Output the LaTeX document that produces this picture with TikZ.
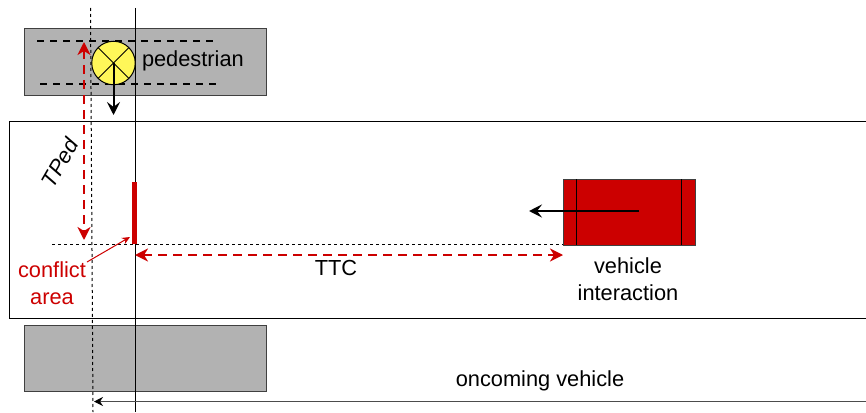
\documentclass[tikz,border=0pt]{standalone}
\usepackage{fontspec}
\setmainfont{Liberation Sans}
\usetikzlibrary{positioning, arrows.meta}

\begin{document}
\begin{tikzpicture}
    [x=1pt, y=-1pt, outer sep = 0pt, line width=1pt,
      font=\fontsize{21.8}{27}\selectfont,
      sidewalk/.style={rectangle, draw=black!75, fill=black!30, minimum
        width=242pt, minimum height=66pt, inner sep=0pt},
      label text/.style={align=center, inner sep=0pt},
      guide/.style={densely dashed, dash pattern=on 3pt off 3pt},
      time span/.style={draw=redmark, line width=2pt, dash pattern=on 9pt off 6pt,
        {Stealth[length=13pt, width=13pt, inset=4pt]}-{Stealth[length=13pt, width=13pt, inset=4pt]}},
      heading/.style={-{Stealth[length=13pt, width=13pt, inset=5pt]}, line width=2pt}]
    \definecolor{redmark}{RGB}{204,0,0}
    \useasboundingbox (0,0) rectangle (866,412);

    % road and sidewalks
    \node (road) [rectangle, draw=black, minimum width=880pt, minimum height=197pt, anchor=north west] at (9,121) {};
    \node (walk_top) [sidewalk, anchor=north west] at (24,29) {};
    \node (walk_bottom) [sidewalk, anchor=north west] at (24,325) {};

    % crossing
    \coordinate (cross_a_l) at (37,41);
    \coordinate (cross_a_r) at (213,41);
    \coordinate (cross_b_l) at (40,84);
    \coordinate (cross_b_r) at (217,84);
    \draw [line width=1.5pt, dash pattern=on 7pt off 6pt] (cross_a_l) -- (cross_a_r);
    \draw [line width=1.5pt, dash pattern=on 7pt off 6pt] (cross_b_l) -- (cross_b_r);

    % guide lines
    \coordinate (solid_top) at (135,8);
    \coordinate (solid_bottom) at (135,412);
    \coordinate (dot_top) at (90.5,8);
    \coordinate (dot_bottom) at (93,412);
    \coordinate (base_left) at (52,244);
    \coordinate (base_right) at (580,244);
    \draw (solid_top) -- (solid_bottom);
    \draw [guide] (dot_top) -- (dot_bottom);
    \draw [guide] (base_left) -- (base_right);

    % pedestrian
    \node (ped) [circle, draw=black, fill=yellow!65, minimum size=43.5pt, inner sep=0pt] at (113.5,63) {};
    \draw (ped.45) -- (ped.225);
    \draw (ped.135) -- (ped.315);
    \node (ped_label) [label text, anchor=west] at (142,60.5) {pedestrian};
    \coordinate (ped_head) at (113.5,115);
    \draw [heading] (ped.center) -- (ped_head);

    % vehicle
    \node (car) [rectangle, draw=black!75, fill=redmark, minimum width=132pt, minimum height=66pt, anchor=north west] at (563,179) {};
    \draw ([xshift=13.5pt]car.north west) -- ([xshift=13.5pt]car.south west);
    \draw ([xshift=-13.5pt]car.north east) -- ([xshift=-13.5pt]car.south east);
    \coordinate (car_mid) at (639,211);
    \coordinate (car_head) at (529,211);
    \draw [heading] (car_mid) -- (car_head);
    \node (car_label) [label text] at (628,279) {vehicle\\interaction};

    % conflict area
    \node (conflict) [rectangle, fill=redmark, minimum width=5pt, minimum height=62pt, inner sep=0pt, anchor=north] at (134.5,182) {};
    \node (conflict_label) [label text, text=redmark] at (52,283) {conflict\\area};
    \coordinate (conflict_from) at (87,262);
    \coordinate (conflict_to) at (130,237);
    \draw [draw=redmark, -{Stealth[length=8pt, width=7pt]}] (conflict_from) -- (conflict_to);

    % times
    \coordinate (ped_start) at (84,42);
    \coordinate (ped_end) at (84,240);
    \coordinate (ttc_start) at (135,255);
    \coordinate (ttc_end) at (563,255);
    \draw [time span] (ped_start) -- (ped_end);
    \draw [time span] (ttc_start) -- (ttc_end);
    \node (tped_label) [label text, rotate=60] at (60,163) {\itshape TPed};
    \node (ttc_label) [label text] at (336,268) {TTC};

    % oncoming vehicle
    \coordinate (oncoming_start) at (866,401.5);
    \coordinate (oncoming_end) at (94,401.5);
    \draw [draw=black!70, -{Stealth[length=9pt, width=9pt, inset=3pt, black]}] (oncoming_start) -- (oncoming_end);
    \node (oncoming_label) [label text] at (540,380.5) {oncoming vehicle};
\end{tikzpicture}
\end{document}
